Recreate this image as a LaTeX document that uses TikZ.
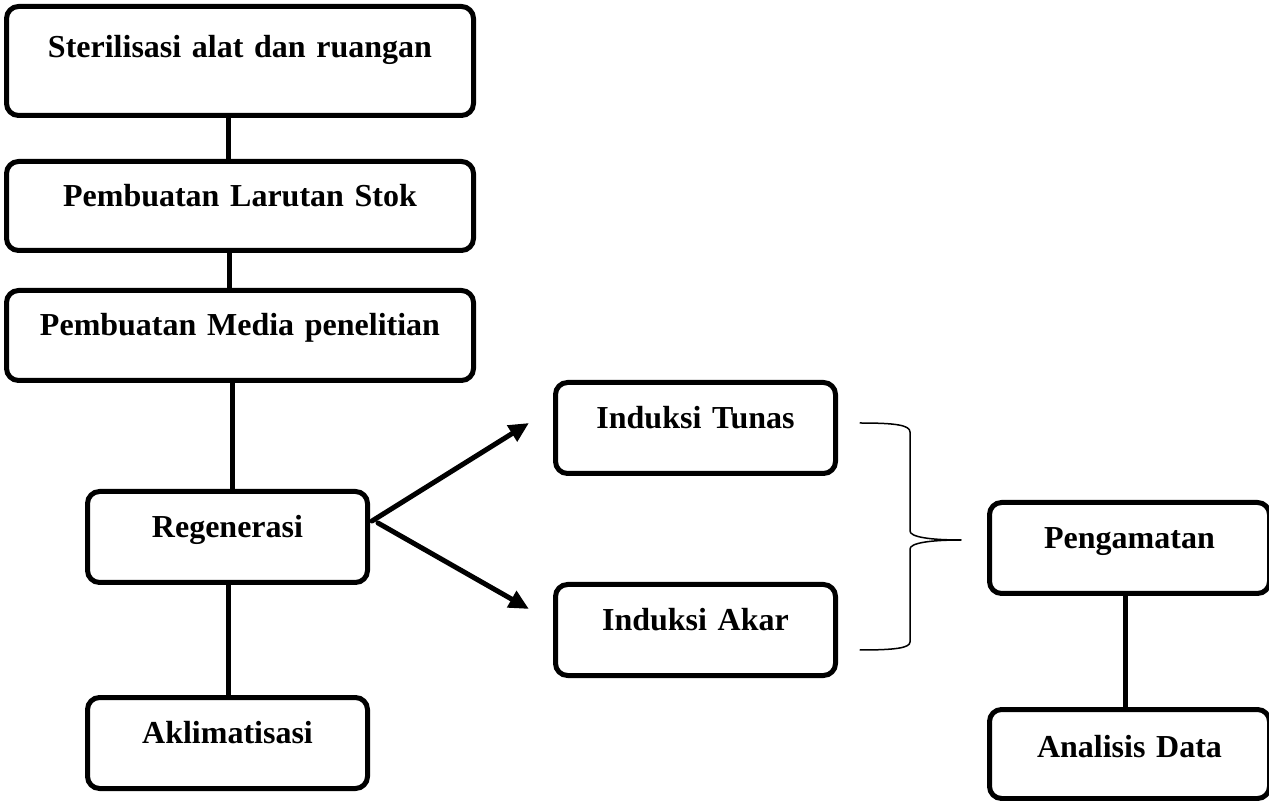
\documentclass[tikz,border=0pt]{standalone}
\usepackage{fontspec}
\setmainfont{Liberation Serif}
\usepackage{pgf,tikz}
\usetikzlibrary{arrows,arrows.meta}

\begin{document}
\begin{tikzpicture}[x=0.5pt,y=-0.5pt,line cap=round,line join=round,>={Triangle[length=10pt,width=9pt]},
  kotak/.style={draw,line width=2.5pt,rounded corners=6pt,inner sep=0pt,anchor=north west,align=center,
    font=\fontsize{16pt}{19pt}\selectfont\bfseries,text height=23pt,text depth=22.5pt},
  lebar/.style={text width=233.5pt},
  sempit/.style={text width=140pt},
  garis/.style={line width=2.5pt}]
\useasboundingbox (0,0) rectangle (1269,801);
\node[kotak,lebar,text height=25.5pt,text depth=29pt] (steril) at (4,4) {Sterilisasi alat dan ruangan};
\node[kotak,lebar,text height=22.5pt,text depth=22pt] (larutan) at (4,159) {Pembuatan Larutan Stok};
\node[kotak,lebar,text height=22.5pt] (media) at (4,288) {Pembuatan Media penelitian};
\node[kotak,sempit] (regen) at (85,489) {Regenerasi};
\node[kotak,sempit] (aklim) at (85,695) {Aklimatisasi};
\node[kotak,sempit] (tunas) at (553,380) {Induksi Tunas};
\node[kotak,sempit] (akar) at (553,582) {Induksi Akar};
\node[kotak,sempit] (amat) at (987,500) {Pengamatan};
\node[kotak,sempit,text height=24pt,text depth=20.5pt] (analisis) at (987,707) {Analisis Data};
\coordinate (tunasin) at (529,423);
\coordinate (akarin) at (529,609);
\draw[garis] (228,0 |- steril.south) -- (228,0 |- larutan.north);
\draw[garis] (229,0 |- larutan.south) -- (229,0 |- media.north);
\draw[garis] (232,0 |- media.south) -- (232,0 |- regen.north);
\draw[garis] (228,0 |- regen.south) -- (228,0 |- aklim.north);
\draw[garis] (1125,0 |- amat.south) -- (1125,0 |- analisis.north);
\draw[garis,->] ([xshift=1pt,yshift=8pt]regen.east) -- (tunasin);
\draw[garis,->] ([xshift=4pt,yshift=7pt]regen.east) -- (akarin);
% kurung kurawal
\draw[line width=0.75pt] (860,423) .. controls (895,423) and (910,425) .. (910,432) -- (910,531)
  .. controls (910,537) and (930,540) .. (961,540) .. controls (930,540) and (910,543) .. (910,549)
  -- (910,642) .. controls (910,648) and (895,650) .. (860,650);
\end{tikzpicture}
\end{document}
